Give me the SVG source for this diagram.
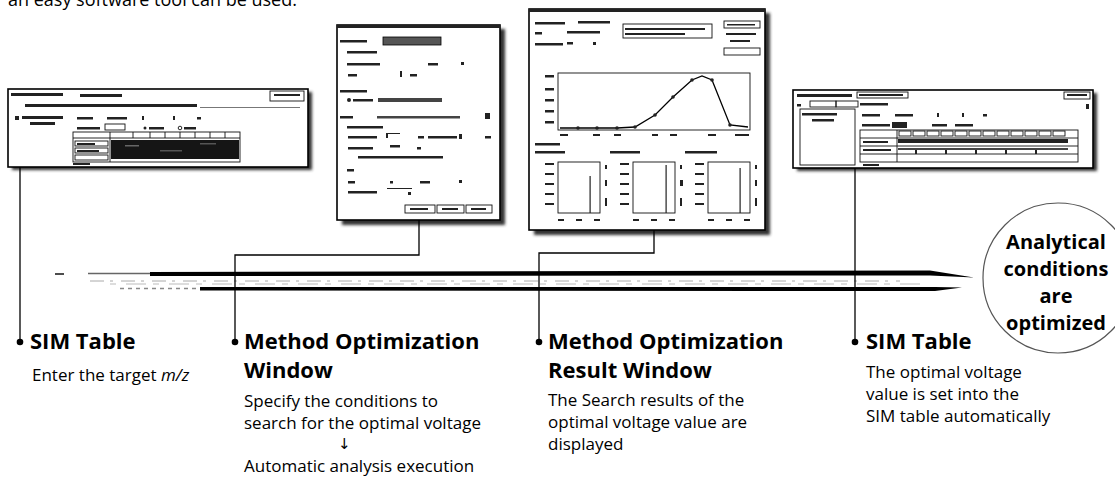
<svg xmlns="http://www.w3.org/2000/svg" width="1115" height="483" viewBox="0 0 1115 483">
<defs>
<style>
.t{font-family:"Open Sans","Liberation Sans",sans-serif;fill:#000}
.h{font-weight:700;font-size:22px}
.b{font-size:17px}
.c{font-weight:700;font-size:20px;text-anchor:middle}
.ar{font-family:"DejaVu Sans","Liberation Sans",sans-serif;font-size:15px;fill:#000}
.win{fill:#fff;stroke:#000;stroke-width:1.6}
.sh{fill:#333;filter:url(#blur)}
.u{fill:#222}
.g{fill:#777}
.bx{fill:none;stroke:#111;stroke-width:0.9}
.conn{fill:none;stroke:#000;stroke-width:1.3}
.dot{fill:#000}
</style>
<filter id="blur" x="-10%" y="-10%" width="120%" height="120%"><feGaussianBlur stdDeviation="1.6"/></filter>
</defs>
<rect width="1115" height="483" fill="#fff"/>
<text class="t" x="8" y="6" font-size="18">an easy software tool can be used.</text>

<!-- Window 1: SIM table -->
<g id="win1">
<rect class="sh" x="12" y="92" width="300" height="78"/>
<rect class="win" x="8" y="89" width="300" height="78"/>
<rect class="u" x="11" y="93" width="52" height="3"/>
<rect class="u" x="80" y="94" width="42" height="3"/>
<rect class="bx" x="270" y="91" width="34" height="10"/>
<rect class="u" x="274" y="94" width="26" height="2"/>
<rect class="u" x="25" y="104" width="172" height="3"/>
<rect class="g" x="200" y="107" width="100" height="1"/>
<rect class="u" x="15" y="116" width="4" height="4"/>
<rect class="u" x="22" y="116" width="41" height="3"/>
<rect class="u" x="30" y="122" width="25" height="3"/>
<rect class="u" x="77" y="117" width="16" height="2.5"/>
<rect class="u" x="107" y="117" width="20" height="2.5"/>
<rect class="u" x="142" y="116" width="2" height="4"/>
<rect class="u" x="173" y="116" width="2" height="4"/>
<rect class="u" x="197" y="117" width="4" height="2.5"/>
<rect class="u" x="77" y="127" width="23" height="2.5"/>
<rect class="bx" x="105" y="124" width="20" height="6"/>
<circle class="u" cx="145" cy="128" r="1.5"/>
<rect class="u" x="149" y="127" width="15" height="2.5"/>
<circle class="bx" cx="180" cy="128" r="1.8"/>
<rect class="u" x="184" y="127" width="12" height="2.5"/>
<rect class="bx" x="73" y="132" width="167" height="30"/>
<line class="bx" x1="73" y1="138" x2="240" y2="138"/>
<g class="bx"><line x1="110" y1="132" x2="110" y2="162"/><line x1="133" y1="132" x2="133" y2="138"/><line x1="150" y1="132" x2="150" y2="138"/><line x1="165" y1="132" x2="165" y2="138"/><line x1="180" y1="132" x2="180" y2="138"/><line x1="195" y1="132" x2="195" y2="138"/><line x1="210" y1="132" x2="210" y2="138"/><line x1="225" y1="132" x2="225" y2="138"/></g>
<rect class="bx" x="75" y="141" width="33" height="5"/>
<rect class="bx" x="75" y="148" width="33" height="5"/>
<rect class="bx" x="75" y="155" width="33" height="5"/>
<rect class="u" x="77" y="143" width="18" height="2"/>
<rect class="u" x="77" y="150" width="22" height="2"/>
<rect x="111" y="140" width="128" height="19" fill="#151515"/>
<rect x="125" y="145" width="14" height="1.5" fill="#666"/>
<rect x="160" y="150" width="22" height="1.5" fill="#555"/>
<rect x="200" y="143" width="16" height="1.5" fill="#555"/>
<rect class="u" x="73" y="163" width="17" height="2"/>
</g>

<!-- Window 2: Method Optimization window -->
<g id="win2">
<rect class="sh" x="342" y="29" width="163" height="196"/>
<rect class="win" x="337" y="25" width="163" height="195"/>
<rect class="u" x="337" y="25" width="163" height="3"/>
<rect class="u" x="340" y="40" width="27" height="2.5"/>
<rect x="383" y="37" width="58" height="8" fill="#555" stroke="#000" stroke-width="0.8"/>
<rect class="u" x="347" y="51" width="30" height="2.5"/>
<rect class="u" x="347" y="63" width="33" height="2.5"/>
<rect class="u" x="428" y="63" width="10" height="2.5"/>
<rect class="u" x="461" y="62" width="3" height="3"/>
<rect class="u" x="348" y="74" width="9" height="2.5"/>
<rect class="u" x="400" y="71" width="2" height="6"/>
<rect class="u" x="410" y="74" width="7" height="2.5"/>
<rect class="u" x="340" y="90" width="27" height="2.5"/>
<circle class="u" cx="349" cy="100" r="2"/>
<rect class="u" x="353" y="99" width="20" height="2.5"/>
<rect x="378" y="98" width="64" height="4" fill="#444"/>
<rect class="u" x="340" y="116" width="13" height="2.5"/>
<rect x="377" y="116" width="83" height="2.5" fill="#444"/>
<rect class="u" x="485" y="113" width="5" height="6"/>
<rect class="u" x="347" y="126" width="36" height="2.5"/>
<rect class="u" x="348" y="136" width="29" height="2.5"/>
<rect class="u" x="386" y="133" width="2" height="5"/>
<rect class="u" x="388" y="133" width="12" height="1"/>
<rect class="u" x="418" y="136" width="6" height="2.5"/>
<rect class="u" x="428" y="136" width="29" height="2.5"/>
<rect class="u" x="459" y="134" width="3" height="5"/>
<rect class="u" x="485" y="136" width="6" height="2.5"/>
<rect class="u" x="348" y="147" width="25" height="2.5"/>
<rect class="u" x="390" y="145" width="10" height="2.5"/>
<rect class="u" x="417" y="147" width="4" height="2.5"/>
<rect class="u" x="358" y="156" width="85" height="2.5"/>
<rect class="u" x="347" y="169" width="7" height="2.5"/>
<rect class="u" x="348" y="181" width="7" height="2.5"/>
<rect class="u" x="390" y="181" width="3" height="2.5"/>
<rect class="u" x="420" y="181" width="10" height="2.5"/>
<rect class="u" x="459" y="180" width="3" height="3"/>
<rect class="u" x="348" y="191" width="29" height="2.5"/>
<rect class="u" x="387" y="188" width="25" height="1"/>
<rect class="u" x="408" y="192" width="3" height="3"/>
<rect class="bx" x="405" y="205" width="30" height="8"/>
<rect class="bx" x="437" y="205" width="27" height="8"/>
<rect class="bx" x="466" y="205" width="26" height="8"/>
<rect class="u" x="410" y="208" width="18" height="2"/>
<rect class="u" x="442" y="208" width="16" height="2"/>
<rect class="u" x="471" y="208" width="15" height="2"/>
</g>

<!-- Window 3: Method Optimization Result window -->
<g id="win3">
<rect class="sh" x="534" y="13" width="236" height="222"/>
<rect class="win" x="529" y="9" width="236" height="221"/>
<rect class="u" x="529" y="9" width="236" height="3"/>
<rect class="u" x="535" y="22" width="30" height="2.5"/>
<rect class="u" x="578" y="21" width="32" height="2.5"/>
<rect class="u" x="535" y="32" width="7" height="2.5"/>
<rect class="u" x="567" y="31" width="33" height="2.5"/>
<rect class="u" x="535" y="43" width="28" height="2.5"/>
<rect class="u" x="567" y="42" width="6" height="2.5"/>
<rect class="u" x="593" y="42" width="3" height="3"/>
<rect class="bx" x="623" y="24" width="89" height="14"/>
<rect class="u" x="625" y="28" width="80" height="2"/>
<rect class="u" x="625" y="33" width="60" height="2"/>
<rect class="bx" x="724" y="21" width="36" height="7"/>
<rect class="u" x="727" y="24" width="28" height="1.5"/>
<rect class="u" x="726" y="33" width="30" height="2"/>
<rect class="u" x="730" y="40" width="20" height="2"/>
<rect class="bx" x="724" y="48" width="36" height="7"/>
<rect class="bx" x="558" y="73" width="192" height="57" stroke-width="1.3"/>
<g class="u"><rect x="545" y="75" width="9" height="2.5"/><rect x="545" y="88" width="9" height="2.5"/><rect x="545" y="99" width="9" height="2.5"/><rect x="545" y="110" width="9" height="2.5"/><rect x="545" y="121" width="9" height="2.5"/></g>
<polyline points="560,128 578,128 597,128 617,128 635,127 655,115 673,97 692,80 702,76 712,80 730,125 748,127" fill="none" stroke="#000" stroke-width="1.3"/>
<g class="u"><circle cx="578" cy="128" r="1.8"/><circle cx="597" cy="128" r="1.8"/><circle cx="617" cy="128" r="1.8"/><circle cx="635" cy="127" r="1.8"/><circle cx="655" cy="115" r="1.8"/><circle cx="673" cy="97" r="1.8"/><circle cx="692" cy="80" r="1.8"/><circle cx="712" cy="80" r="1.8"/><circle cx="730" cy="125" r="1.8"/></g>
<g class="u"><rect x="560" y="134" width="8" height="2"/><rect x="593" y="134" width="7" height="2"/><rect x="614" y="134" width="7" height="2"/><rect x="652" y="134" width="6" height="2"/><rect x="670" y="134" width="7" height="2"/><rect x="708" y="134" width="8" height="2"/><rect x="735" y="134" width="14" height="2"/></g>
<rect class="u" x="535" y="143" width="25" height="2.5"/>
<rect class="u" x="535" y="151" width="30" height="2.5"/>
<rect class="u" x="610" y="151" width="30" height="2.5"/>
<rect class="u" x="685" y="151" width="32" height="2.5"/>
<rect class="bx" x="558" y="162" width="42" height="51" stroke-width="1.2"/>
<rect class="bx" x="633" y="162" width="42" height="51" stroke-width="1.2"/>
<rect class="bx" x="708" y="162" width="42" height="51" stroke-width="1.2"/>
<g class="u">
<rect x="545" y="163" width="9" height="2"/><rect x="545" y="173" width="9" height="2"/><rect x="545" y="183" width="9" height="2"/><rect x="545" y="193" width="9" height="2"/><rect x="545" y="203" width="9" height="2"/>
<rect x="620" y="163" width="9" height="2"/><rect x="620" y="173" width="9" height="2"/><rect x="620" y="183" width="9" height="2"/><rect x="620" y="193" width="9" height="2"/><rect x="620" y="203" width="9" height="2"/>
<rect x="695" y="163" width="9" height="2"/><rect x="695" y="173" width="9" height="2"/><rect x="695" y="183" width="9" height="2"/><rect x="695" y="193" width="9" height="2"/><rect x="695" y="203" width="9" height="2"/>
<rect x="589.5" y="176" width="1.2" height="37"/><rect x="665.5" y="165" width="1.2" height="48"/><rect x="739.5" y="168" width="1.2" height="45"/>
<rect x="605" y="165" width="2" height="4"/><rect x="605" y="180" width="2" height="6"/><rect x="605" y="198" width="2" height="8"/>
<rect x="680" y="165" width="2" height="4"/><rect x="680" y="180" width="3" height="6"/><rect x="680" y="198" width="2" height="8"/>
<rect x="755" y="165" width="2" height="4"/><rect x="755" y="180" width="2" height="6"/><rect x="755" y="198" width="2" height="8"/>
<rect x="558" y="219" width="6" height="2"/><rect x="576" y="219" width="6" height="2"/><rect x="594" y="219" width="6" height="2"/>
<rect x="633" y="219" width="6" height="2"/><rect x="651" y="219" width="6" height="2"/><rect x="669" y="219" width="6" height="2"/>
<rect x="708" y="219" width="6" height="2"/><rect x="726" y="219" width="6" height="2"/><rect x="744" y="219" width="6" height="2"/>
</g>
</g>

<!-- Window 4: SIM table (optimized) -->
<g id="win4">
<rect class="sh" x="797" y="93" width="300" height="78"/>
<rect class="win" x="793" y="90" width="300" height="78"/>
<rect class="u" x="797" y="94" width="55" height="3"/>
<rect class="bx" x="857" y="92" width="51" height="6"/>
<rect class="u" x="859" y="94" width="44" height="2"/>
<rect class="bx" x="1064" y="92" width="26" height="7"/>
<rect class="u" x="1067" y="94" width="20" height="2"/>
<rect class="u" x="797" y="104" width="4" height="2.5"/>
<rect class="bx" x="810" y="101" width="26" height="6"/>
<rect class="bx" x="836" y="101" width="22" height="6"/>
<rect class="u" x="860" y="103" width="28" height="2.5"/>
<rect class="bx" x="800" y="109" width="55" height="56"/>
<rect class="u" x="802" y="113" width="35" height="2.5"/>
<rect class="u" x="812" y="119" width="22" height="2.5"/>
<rect class="u" x="862" y="114" width="18" height="2.5"/>
<rect class="u" x="895" y="114" width="18" height="2.5"/>
<rect class="u" x="937" y="113" width="2" height="4"/>
<rect class="u" x="962" y="113" width="2" height="4"/>
<rect class="u" x="983" y="114" width="4" height="2.5"/>
<rect class="u" x="862" y="124" width="28" height="2.5"/>
<rect class="u" x="892" y="122" width="15" height="6"/>
<rect class="u" x="932" y="124" width="15" height="2.5"/>
<rect class="u" x="955" y="124" width="18" height="2.5"/>
<rect class="bx" x="860" y="130" width="218" height="32"/>
<line class="bx" x1="897" y1="130" x2="897" y2="162"/>
<g class="bx">
<rect x="899" y="131" width="12" height="5"/><rect x="913" y="131" width="12" height="5"/><rect x="927" y="131" width="12" height="5"/><rect x="941" y="131" width="12" height="5"/><rect x="955" y="131" width="12" height="5"/><rect x="969" y="131" width="12" height="5"/><rect x="983" y="131" width="12" height="5"/><rect x="997" y="131" width="12" height="5"/><rect x="1011" y="131" width="12" height="5"/><rect x="1025" y="131" width="12" height="5"/><rect x="1039" y="131" width="12" height="5"/><rect x="1053" y="131" width="12" height="5"/>
<line x1="860" y1="138" x2="1078" y2="138"/><line x1="860" y1="146" x2="1078" y2="146"/><line x1="860" y1="154" x2="1078" y2="154"/>
</g>
<rect class="u" x="898" y="139" width="170" height="4"/>
<rect x="898" y="148" width="170" height="2" fill="#444"/>
<g class="u"><rect x="915" y="150" width="2" height="4"/><rect x="945" y="150" width="2" height="4"/><rect x="975" y="150" width="2" height="4"/><rect x="1005" y="150" width="2" height="4"/><rect x="1035" y="150" width="2" height="4"/></g>
<rect class="u" x="863" y="141" width="25" height="2"/>
<rect class="u" x="863" y="149" width="28" height="2"/>
<rect class="u" x="863" y="164" width="16" height="2"/>
<rect class="u" x="1086" y="104" width="3" height="5"/>
</g>

<!-- Timeline arrow -->
<g id="timeline">
<line x1="55" y1="274" x2="64" y2="274" stroke="#000" stroke-width="1.4"/>
<line x1="88" y1="273.5" x2="160" y2="273.5" stroke="#666" stroke-width="1.5"/>
<path d="M150,272 L930,270.5 L974,277.5 L930,275.5 L150,276 Z" fill="#000"/>
<line x1="90" y1="281" x2="900" y2="281" stroke="#aaa" stroke-width="1" stroke-dasharray="14 6 3 8"/>
<line x1="110" y1="284" x2="920" y2="284" stroke="#bbb" stroke-width="1" stroke-dasharray="6 10 20 7"/>
<line x1="120" y1="288.5" x2="200" y2="288.5" stroke="#888" stroke-width="1.3" stroke-dasharray="4 4"/>
<path d="M200,287 L935,287 L962,287.5 L935,291 L200,290.5 Z" fill="#000"/>
</g>

<!-- Connectors -->
<g id="connectors" class="conn">
<polyline points="20,167 20,342"/>
<polyline points="419,220 419,255 235,255 235,342"/>
<polyline points="654,230 654,253 539,253 539,342"/>
<polyline points="855,168 855,342"/>
</g>

<!-- Step labels -->
<g id="step1">
<circle class="dot" cx="20" cy="342" r="3.3"/>
<text class="t h" x="30" y="349">SIM Table</text>
<text class="t b" x="32" y="381">Enter the target <tspan font-style="italic">m/z</tspan></text>
</g>
<g id="step2">
<circle class="dot" cx="235" cy="342" r="3.3"/>
<text class="t h" x="244" y="349">Method Optimization</text>
<text class="t h" x="244" y="378">Window</text>
<text class="t b" x="244" y="407">Specify the conditions to</text>
<text class="t b" x="244" y="429">search for the optimal voltage</text>
<text class="ar" x="338" y="449">↓</text>
<text class="t b" x="244" y="472">Automatic analysis execution</text>
</g>
<g id="step3">
<circle class="dot" cx="539" cy="342" r="3.3"/>
<text class="t h" x="548" y="349">Method Optimization</text>
<text class="t h" x="548" y="378">Result Window</text>
<text class="t b" x="548" y="406">The Search results of the</text>
<text class="t b" x="548" y="428">optimal voltage value are</text>
<text class="t b" x="548" y="450">displayed</text>
</g>
<g id="step4">
<circle class="dot" cx="855" cy="342" r="3.3"/>
<text class="t h" x="866" y="349">SIM Table</text>
<text class="t b" x="866" y="378">The optimal voltage</text>
<text class="t b" x="866" y="400">value is set into the</text>
<text class="t b" x="866" y="422">SIM table automatically</text>
</g>

<!-- Result circle -->
<g id="result">
<circle cx="1058" cy="278" r="75" fill="#fff" stroke="#555" stroke-width="1.2"/>
<text class="t c" x="1056" y="249">Analytical</text>
<text class="t c" x="1056" y="276">conditions</text>
<text class="t c" x="1056" y="303">are</text>
<text class="t c" x="1056" y="330">optimized</text>
</g>
</svg>
